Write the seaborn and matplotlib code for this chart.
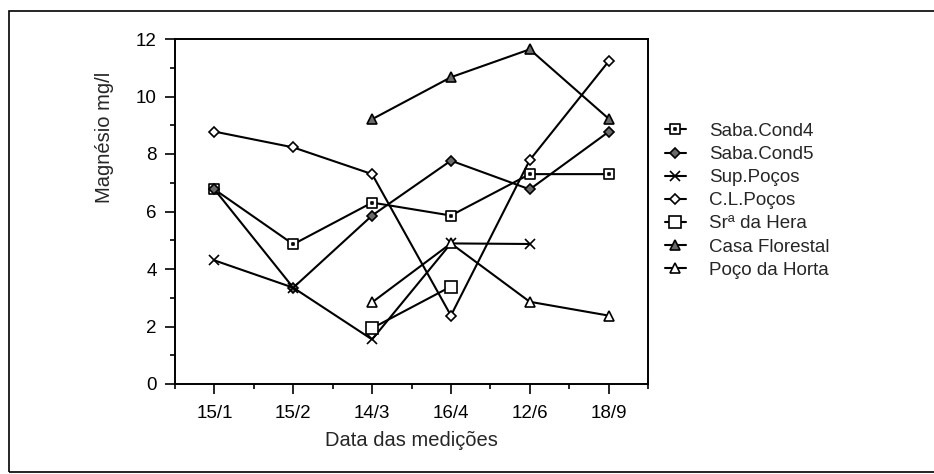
import numpy as np
import pandas as pd
import matplotlib
matplotlib.use("Agg")
import matplotlib.pyplot as plt
import seaborn as sns
from matplotlib.path import Path
from matplotlib.patches import Rectangle
from matplotlib.ticker import FixedLocator, MultipleLocator

nan = np.nan

# ---- data ----
dates = ["15/1", "15/2", "14/3", "16/4", "12/6", "18/9"]
saba_cond4 = [6.77, 4.86, 6.31, 5.86, 7.30, 7.30]
saba_cond5 = [6.77, 3.35, 5.86, 7.77, 6.77, 8.77]
sup_pocos = [4.30, 3.35, 1.55, 4.89, 4.87, nan]
cl_pocos = [8.78, 8.23, 7.30, 2.38, 7.79, 11.22]
sra_hera = [nan, nan, 1.94, 3.39, nan, nan]
casa_florestal = [nan, nan, 9.21, 10.67, 11.64, 9.23]
poco_horta = [nan, nan, 2.84, 4.89, 2.86, 2.38]

series_names = ["Saba.Cond4", "Saba.Cond5", "Sup.Poços", "C.L.Poços",
                "Srª da Hera", "Casa Florestal", "Poço da Horta"]
series_values = [saba_cond4, saba_cond5, sup_pocos, cl_pocos,
                 sra_hera, casa_florestal, poco_horta]

x_label = "Data das medições"
y_label = "Magnésio mg/l"

# square with a small dot inside
_o, _i = 1.0, 0.18
dot_square = Path(
    [(-_o, -_o), (_o, -_o), (_o, _o), (-_o, _o), (-_o, -_o),
     (-_i, -_i), (_i, -_i), (_i, _i), (-_i, _i), (-_i, -_i)],
    [Path.MOVETO, Path.LINETO, Path.LINETO, Path.LINETO, Path.CLOSEPOLY,
     Path.MOVETO, Path.LINETO, Path.LINETO, Path.LINETO, Path.CLOSEPOLY])

styles = {
    "Saba.Cond4": dict(marker=dot_square, markersize=6.5, markerfacecolor="white"),
    "Saba.Cond5": dict(marker="D", markersize=5.5, markerfacecolor="#6a6a6a"),
    "Sup.Poços": dict(marker="x", markersize=7, markerfacecolor="black"),
    "C.L.Poços": dict(marker="D", markersize=5.5, markerfacecolor="white"),
    "Srª da Hera": dict(marker="s", markersize=8, markerfacecolor="white"),
    "Casa Florestal": dict(marker="^", markersize=7, markerfacecolor="#6a6a6a"),
    "Poço da Horta": dict(marker="^", markersize=7, markerfacecolor="white"),
}

rows = []
for name, vals in zip(series_names, series_values):
    for i, v in enumerate(vals):
        rows.append({"serie": name, "pos": i, "valor": v})
df = pd.DataFrame(rows).dropna()

sns.set_style("ticks")
plt.rcParams["font.family"] = ["Liberation Sans", "DejaVu Sans"]
plt.rcParams["font.size"] = 13.5

fig = plt.figure(figsize=(9.34, 4.74), dpi=100)
ax = fig.add_axes([175 / 934, 90 / 474, 473 / 934, 345 / 474])

for name in series_names:
    sub = df[df["serie"] == name]
    sns.lineplot(data=sub, x="pos", y="valor", ax=ax, color="black",
                 linewidth=1.5, markeredgecolor="black", markeredgewidth=1.2,
                 estimator=None, sort=False, label=name, **styles[name])

ax.set_xlim(-0.5, 5.5)
ax.set_ylim(0, 12)
ax.xaxis.set_major_locator(FixedLocator(range(len(dates))))
ax.set_xticklabels(dates)
ax.xaxis.set_minor_locator(FixedLocator(np.arange(-0.5, 5.6, 1.0)))
ax.yaxis.set_major_locator(MultipleLocator(2))
ax.yaxis.set_minor_locator(MultipleLocator(1))
ax.tick_params(axis="both", which="major", direction="out", length=7,
               width=1.2, colors="black", labelsize=13.5)
ax.tick_params(axis="both", which="minor", direction="out", length=3.5,
               width=1.2, colors="black")
ax.tick_params(axis="x", which="major", pad=8)
ax.tick_params(axis="y", which="major", pad=6)
for s in ax.spines.values():
    s.set_visible(True)
    s.set_linewidth(1.4)
    s.set_color("black")

ax.set_xlabel(x_label, fontsize=14.5)
ax.set_ylabel(y_label, fontsize=14.5)
ax.xaxis.set_label_coords(0.5, -0.165)
ax.xaxis.label.set_va("center")
ax.yaxis.set_label_coords(-0.148, 0.716)
ax.yaxis.label.set_va("center")

ax.legend(loc="upper left", bbox_to_anchor=(1.036, 0.757), frameon=False,
          borderaxespad=0, borderpad=0, handlelength=1.1, handletextpad=1.25,
          labelspacing=0.32, fontsize=13.5)

# outer frame of the figure
fig.patches.append(Rectangle((9 / 934, 2 / 474), 1.2, (472 - 11) / 474,
                             transform=fig.transFigure, fill=False,
                             edgecolor="black", linewidth=1.2, clip_on=False))

fig.savefig("out.png", dpi=100)
